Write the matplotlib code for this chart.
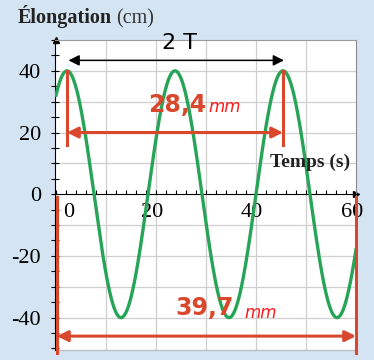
import numpy as np
import matplotlib
matplotlib.use("Agg")
import matplotlib.pyplot as plt

plt.rcParams['axes.unicode_minus'] = False

# Sine: amplitude, period and time of first maximum
amplitude = 40      # cm
period = 21.6       # s
t_peak = 2.2        # s
t_end = 60

x_labels = [0, 20, 40, 60]
y_labels = [-40, -20, 0, 20, 40]
grid_x = [10, 20, 30, 40, 50]
grid_y = [-40, -30, -20, -10, 10, 20, 30, 40]

# measures drawn on the screenshot
measure_2T = "2 T"
measure_small = "28,4"
measure_big = "39,7"
unit = "mm"

t = np.linspace(0, t_end, 800)
elong = amplitude * np.cos(2 * np.pi * (t - t_peak) / period)

bg = '#d5e4f3'
red = '#d9472d'
green = '#27a457'
serif = 'Liberation Serif'

fig = plt.figure(figsize=(3.74, 3.60), dpi=100, facecolor=bg)
ax = fig.add_axes([55 / 374, 10 / 360, 301 / 374, 310 / 360])
ax.set_xlim(-0.2, 60)
ax.set_ylim(-50.5, 50)

# grid
for gx in grid_x:
    ax.axvline(gx, color='#cfcfcf', lw=0.9, zorder=0)
for gy in grid_y:
    ax.axhline(gy, color='#cfcfcf', lw=0.9, zorder=0)

# axes and frame
ax.spines['bottom'].set_position(('data', 0))
ax.spines['bottom'].set_color('black')
ax.spines['left'].set_color('black')
ax.spines['top'].set_color('#9a9a9a')
ax.spines['right'].set_color('#8a8a8a')
ax.plot([0, 1], [0, 0], transform=ax.transAxes, color='#bdbdbd', lw=1.0,
        clip_on=False)

ax.set_xticks(x_labels)
ax.set_xticks(np.arange(0, 60, 2), minor=True)
ax.set_xticklabels([])
ax.tick_params(axis='x', which='both', direction='in', length=3, width=0.8)

ax.set_yticks(y_labels)
ax.set_yticks(np.arange(-50, 51, 5), minor=True)
ax.set_yticklabels([str(v) for v in y_labels], fontfamily=serif, fontsize=16)
ax.tick_params(axis='y', which='both', direction='inout', length=6,
               width=0.8, pad=7)

ax.plot(60, 0, marker='>', color='black', ms=4, clip_on=False)
ax.plot(0, 50, marker='^', color='black', ms=4, clip_on=False)

for v in x_labels:
    dx = 9 if v == 0 else -3
    ax.annotate(str(v), (v, 0), xytext=(dx, -13), textcoords='offset points',
                ha='center', va='center', fontfamily=serif, fontsize=16)

# the curve
ax.plot(t, elong, color=green, lw=2.4, zorder=3)

# black 2T arrow
t2 = t_peak + 2 * period
ax.annotate('', xy=(t_peak + 0.3, 43.4), xytext=(t2 + 0.2, 43.4),
            arrowprops=dict(arrowstyle='<|-|>', color='black', lw=1.1,
                            mutation_scale=16, shrinkA=0, shrinkB=0))
ax.text(24.8, 49.0, measure_2T, ha='center', va='center', fontsize=16,
        color='black', clip_on=False)

# red measure between two maxima
for tp in (t_peak, t2):
    ax.plot([tp, tp], [40, 16], color=red, lw=2.2, zorder=4)
ax.annotate('', xy=(t_peak, 20), xytext=(t2, 20),
            arrowprops=dict(arrowstyle='<|-|>', color=red, lw=2.2,
                            mutation_scale=16, shrinkA=0, shrinkB=0),
            zorder=4)
ax.text(24.2, 29, measure_small, ha='center', va='center', fontsize=17,
        fontweight='bold', color=red, zorder=5)
ax.text(30.4, 28.2, unit, ha='left', va='center', fontsize=12,
        style='italic', color='#ff1a1a', zorder=5)

# red measure across the whole axis
for tx in (0.2, 60):
    ax.plot([tx, tx], [-0.8, -51.5], color=red, lw=2.2, zorder=4,
            clip_on=False)
ax.annotate('', xy=(0.2, -46), xytext=(60, -46),
            arrowprops=dict(arrowstyle='<|-|>', color=red, lw=2.2,
                            mutation_scale=16, shrinkA=0, shrinkB=0),
            zorder=4)
ax.text(29.8, -37, measure_big, ha='center', va='center', fontsize=17,
        fontweight='bold', color=red, zorder=5)
ax.text(37.6, -38.5, unit, ha='left', va='center', fontsize=12,
        style='italic', color='#ff1a1a', zorder=5)

# axis titles
ax.text(58.8, 10.4, 'Temps (s)', ha='right', va='center', fontfamily=serif,
        fontweight='bold', fontsize=14, color='#222222')

title_y = 1 - 23 / 360
title = fig.text(18 / 374, title_y, 'Élongation', ha='left', va='baseline',
                 fontfamily=serif, fontweight='bold', fontsize=14.5,
                 color='#222222')
fig.canvas.draw()
bb = title.get_window_extent()
fig.text(bb.x1 / fig.bbox.width + 0.012, title_y, '(cm)', ha='left',
         va='baseline', fontfamily=serif, fontsize=14.5, color='#333333')

fig.savefig('out.png', dpi=100, facecolor=bg)
